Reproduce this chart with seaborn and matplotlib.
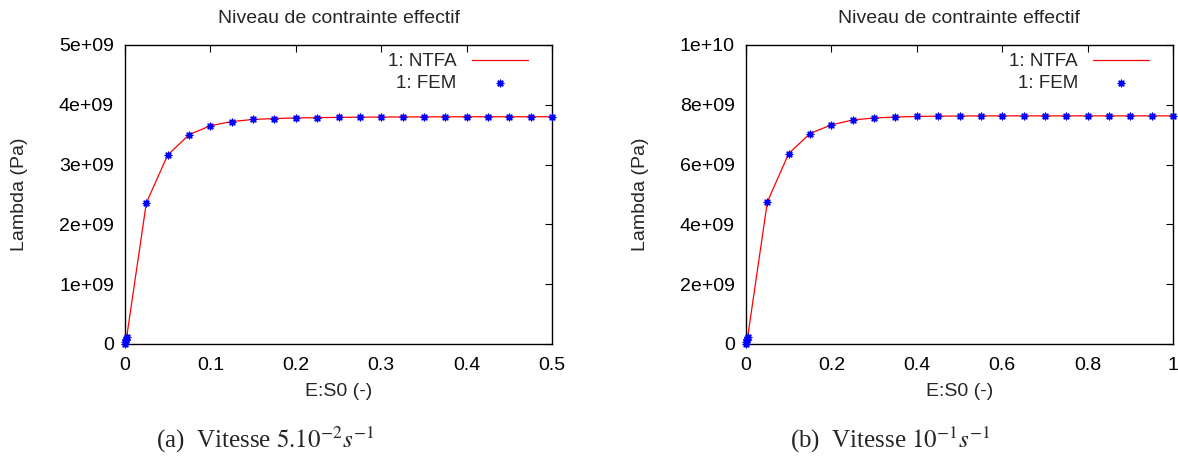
import matplotlib
matplotlib.use("Agg")
import matplotlib.pyplot as plt
import seaborn as sns
import numpy as np
import pandas as pd

sns.set_theme(style="white")
plt.rcParams['font.family'] = ['Liberation Sans', 'DejaVu Sans']
plt.rcParams['mathtext.fontset'] = 'stix'

# ---- data: panel (a) ----
x_a = [0, 0.0005, 0.001, 0.0015, 0.002, 0.025, 0.05, 0.075, 0.1, 0.125, 0.15, 0.175, 0.2,
       0.225, 0.25, 0.275, 0.3, 0.325, 0.35, 0.375, 0.4, 0.425, 0.45, 0.475, 0.5]
y_a = [0, 3e7, 6e7, 9e7, 1.2e8, 2.36e9, 3.16e9, 3.50e9, 3.65e9, 3.72e9, 3.755e9, 3.77e9, 3.78e9,
       3.785e9, 3.79e9, 3.793e9, 3.795e9, 3.797e9, 3.798e9, 3.799e9, 3.80e9, 3.80e9, 3.80e9, 3.80e9, 3.80e9]
# ---- data: panel (b) ----
x_b = [0, 0.001, 0.002, 0.003, 0.004, 0.05, 0.1, 0.15, 0.2, 0.25, 0.3, 0.35, 0.4, 0.45, 0.5,
       0.55, 0.6, 0.65, 0.7, 0.75, 0.8, 0.85, 0.9, 0.95, 1.0]
y_b = [0, 6e7, 1.2e8, 1.8e8, 2.4e8, 4.75e9, 6.37e9, 7.04e9, 7.33e9, 7.49e9, 7.56e9, 7.59e9, 7.61e9, 7.62e9, 7.625e9,
       7.63e9, 7.63e9, 7.63e9, 7.63e9, 7.63e9, 7.63e9, 7.63e9, 7.63e9, 7.63e9, 7.63e9]

xticks_a = [0, 0.1, 0.2, 0.3, 0.4, 0.5]
xticklabels_a = ["0", "0.1", "0.2", "0.3", "0.4", "0.5"]
yticks_a = [0, 1e9, 2e9, 3e9, 4e9, 5e9]
yticklabels_a = ["0", "1e+09", "2e+09", "3e+09", "4e+09", "5e+09"]
xticks_b = [0, 0.2, 0.4, 0.6, 0.8, 1.0]
xticklabels_b = ["0", "0.2", "0.4", "0.6", "0.8", "1"]
yticks_b = [0, 2e9, 4e9, 6e9, 8e9, 1e10]
yticklabels_b = ["0", "2e+09", "4e+09", "6e+09", "8e+09", "1e+10"]

title = "Niveau de contrainte effectif"
xlabel = "E:S0 (-)"
ylabel = "Lambda (Pa)"
captions = [r"(a)  Vitesse $5.10^{-2}s^{-1}$", r"(b)  Vitesse $10^{-1}s^{-1}$"]

W, H = 1178, 458
fig = plt.figure(figsize=(W / 100, H / 100), dpi=100)

FS = 14
panels = [
    (125, x_a, y_a, xticks_a, xticklabels_a, yticks_a, yticklabels_a, (0, 0.5), (0, 5e9), 156),
    (746, x_b, y_b, xticks_b, xticklabels_b, yticks_b, yticklabels_b, (0, 1.0), (0, 1e10), 790),
]
asterisk = (8, 2, 0)
for i, (left, xs, ys, xt, xtl, yt, ytl, xl, yl, capx) in enumerate(panels):
    ax = fig.add_axes([left / W, (H - 344) / H, 427 / W, 299 / H])
    df = pd.DataFrame({"x": xs, "y": ys})
    sns.lineplot(data=df, x="x", y="y", ax=ax, color="#ff0000", lw=0.9,
                 label="1: NTFA", sort=False, estimator=None)
    sns.scatterplot(data=df, x="x", y="y", ax=ax, color="#0000ff", marker=asterisk,
                    s=22, linewidth=1.0, label="1: FEM", zorder=3, clip_on=False)
    ax.set_xlim(*xl)
    ax.set_ylim(*yl)
    ax.set_xticks(xt)
    ax.set_xticklabels(xtl)
    ax.set_yticks(yt)
    ax.set_yticklabels(ytl)
    ax.tick_params(direction="in", length=5, width=0.8, top=True, right=True,
                   labelsize=FS, colors="black", pad=8)
    ax.tick_params(axis="x", pad=9)
    for sp in ax.spines.values():
        sp.set_color("black")
        sp.set_linewidth(1.0)
    ax.set_xlabel(xlabel, fontsize=FS, labelpad=7)
    ax.set_ylabel(ylabel, fontsize=FS, labelpad=22)
    ax.set_title(title, fontsize=FS, pad=16)
    ax.grid(False)
    leg = ax.legend(loc="upper right", bbox_to_anchor=(1 - 24 / 427, 1 - 8 / 299),
                    markerfirst=False, frameon=False, fontsize=13.5,
                    handlelength=3.0, handletextpad=0.8, borderaxespad=0, borderpad=0,
                    labelspacing=0.25, scatterpoints=1)
    fig.text(capx / W, (H - 440) / H, captions[i], fontsize=18,
             family="Liberation Serif", ha="left", va="center")

fig.savefig("out.png", dpi=100)
